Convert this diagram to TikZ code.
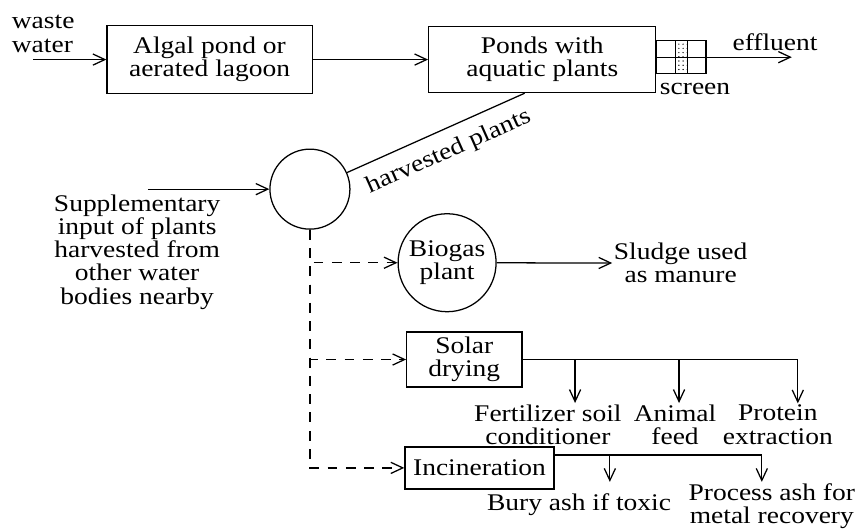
\documentclass[tikz,border=0pt]{standalone}
\usepackage{fontspec}
\setmainfont{Liberation Serif}[FakeStretch=1.15]
\usetikzlibrary{arrows.meta,patterns}

\begin{document}
\begin{tikzpicture}[x=1cm,y=1cm]
\tikzset{
  plainlabel/.style={inner sep=1pt,align=center,font=\fontsize{17}{16.5}\selectfont},
  procbox/.style={plainlabel,rectangle,draw=black,line width=0.9pt},
  roundnode/.style={plainlabel,circle,draw=black,line width=0.9pt,inner sep=0pt},
  flowline/.style={draw=black,line width=0.9pt},
  flow/.style={flowline,-{Straight Barb[length=3mm,width=2.8mm]}},
  dashflow/.style={flow,dash pattern=on 7pt off 6pt}
}
\useasboundingbox (0,0) rectangle (21.48,13.23);
\node[plainlabel,align=left] (n_waste) at (1.08,12.38) {waste\\water};
\coordinate (e_in) at (0.83,11.74);
\node[procbox,minimum width=5.13cm,minimum height=1.70cm] (n_algal) at (5.24,11.74) {Algal pond or\\aerated lagoon};
\node[procbox,minimum width=5.68cm,minimum height=1.65cm] (n_ponds) at (13.56,11.74) {Ponds with\\aquatic plants};
\node[procbox,minimum width=1.25cm,minimum height=0.83cm] (n_screen) at (17.03,11.80) {};
\node[plainlabel] (n_screenlbl) at (17.38,11.00) {screen};
\coordinate (e_eff) at (19.80,11.80);
\node[plainlabel] (n_effl) at (19.38,12.18) {effluent};
\node[roundnode,minimum size=2.0cm] (n_col) at (7.75,8.50) {};
\coordinate (e_sup) at (3.70,8.50);
\node[plainlabel] (n_sup) at (3.43,6.93) {Supplementary\\input of plants\\harvested from\\other water\\bodies nearby};
\node[roundnode,minimum size=2.45cm] (n_bio) at (11.18,6.66) {Biogas\\plant};
\node[plainlabel] (n_sludge) at (17.02,6.65) {Sludge used\\as manure};
\node[procbox,minimum width=2.88cm,minimum height=1.38cm] (n_solar) at (11.61,4.24) {Solar\\drying};
\coordinate (c_s1) at (14.38,4.24);
\coordinate (c_s2) at (16.98,4.24);
\coordinate (c_s3) at (19.95,4.24);
\node[plainlabel] (n_fert) at (13.70,2.61) {Fertilizer soil\\conditioner};
\node[plainlabel] (n_feed) at (16.88,2.61) {Animal\\feed};
\node[plainlabel] (n_prot) at (19.45,2.61) {Protein\\extraction};
\node[procbox,minimum width=3.73cm,minimum height=1.05cm] (n_incin) at (11.99,1.53) {Incineration};
\coordinate (c_i1) at (15.25,1.85);
\coordinate (c_i2) at (19.05,1.85);
\coordinate (e_i1) at (15.25,1.18);
\coordinate (e_i2) at (19.05,1.18);
\node[plainlabel] (n_bury) at (14.48,0.60) {Bury ash if toxic};
\node[plainlabel] (n_proc) at (19.30,0.58) {Process ash for\\metal recovery};
\draw[flow] (e_in) -- (n_algal);
\draw[flow] (n_algal) -- (n_ponds);
\draw[flowline] (n_screen.west) -- (n_screen.east);
\node[rectangle,draw=black,line width=0.9pt,fill=white,pattern=dots,minimum width=0.30cm,minimum height=0.83cm,inner sep=0pt] (n_mesh) at (17.05,11.80) {};
\draw[flow] (n_screen.east) -- (e_eff);
\draw[flow] (e_sup) -- (n_col);
\draw[flowline] (n_col) -- ([xshift=-0.44cm]n_ponds.south) node[plainlabel,sloped,below=7pt,pos=0.52] {harvested plants};
\draw[dashflow] (n_col.south) |- (n_bio);
\draw[dashflow] (n_col.south) |- (n_solar);
\draw[dashflow] (n_col.south) |- (n_incin);
\draw[flow] (n_bio) -- (n_sludge);
\draw[flowline] (n_solar.east |- c_s3) -- (c_s3);
\draw[flow] (c_s1) -- (c_s1 |- n_fert.north);
\draw[flow] (c_s2) -- (c_s2 |- n_feed.north);
\draw[flow] (c_s3) -- (c_s3 |- n_prot.north);
\draw[flowline] (n_incin.east |- c_i2) -- (c_i2);
\draw[flow] (c_i1) -- (e_i1);
\draw[flow] (c_i2) -- (e_i2);
\end{tikzpicture}
\end{document}
